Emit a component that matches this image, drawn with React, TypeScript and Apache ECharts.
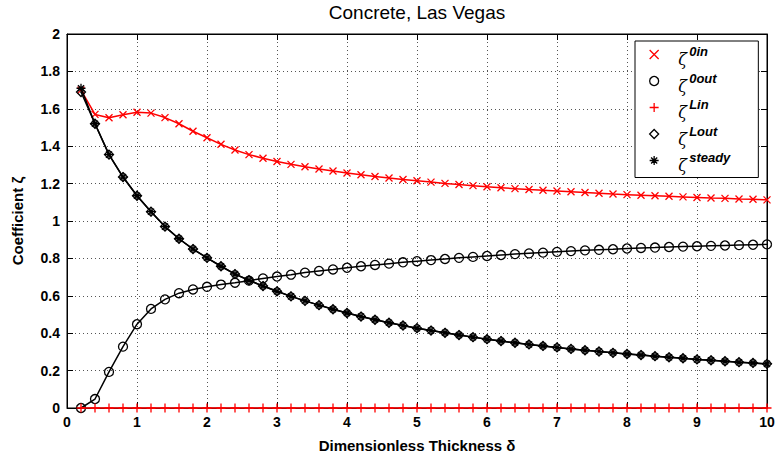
import { useEffect, useRef } from "react";
import * as echarts from "echarts";

// Dimensionless thickness δ (x values of every marker)
const thickness = [
  0.2, 0.4, 0.6, 0.8, 1.0, 1.2, 1.4, 1.6, 1.8, 2.0,
  2.2, 2.4, 2.6, 2.8, 3.0, 3.2, 3.4, 3.6, 3.8, 4.0,
  4.2, 4.4, 4.6, 4.8, 5.0, 5.2, 5.4, 5.6, 5.8, 6.0,
  6.2, 6.4, 6.6, 6.8, 7.0, 7.2, 7.4, 7.6, 7.8, 8.0,
  8.2, 8.4, 8.6, 8.8, 9.0, 9.2, 9.4, 9.6, 9.8, 10.0,
];

const zeta0in = [
  1.70, 1.57, 1.552, 1.568, 1.582, 1.577, 1.553, 1.52, 1.48, 1.445,
  1.41, 1.38, 1.355, 1.336, 1.318, 1.303, 1.29, 1.278, 1.267, 1.257,
  1.247, 1.238, 1.23, 1.222, 1.215, 1.208, 1.201, 1.195, 1.189, 1.183,
  1.178, 1.173, 1.168, 1.164, 1.16, 1.156, 1.152, 1.148, 1.144, 1.141,
  1.138, 1.135, 1.132, 1.129, 1.126, 1.123, 1.121, 1.118, 1.116, 1.113,
];

const zeta0out = [
  0.0, 0.048, 0.193, 0.328, 0.448, 0.53, 0.581, 0.614, 0.634, 0.648,
  0.66, 0.67, 0.681, 0.693, 0.703, 0.713, 0.724, 0.733, 0.741, 0.75,
  0.758, 0.765, 0.772, 0.779, 0.785, 0.791, 0.797, 0.803, 0.808, 0.813,
  0.818, 0.823, 0.827, 0.831, 0.835, 0.839, 0.843, 0.846, 0.849, 0.853,
  0.856, 0.858, 0.861, 0.863, 0.865, 0.867, 0.869, 0.871, 0.873, 0.875,
];

const zetaLin = [
  0, 0, 0, 0, 0, 0, 0, 0, 0, 0,
  0, 0, 0, 0, 0, 0, 0, 0, 0, 0,
  0, 0, 0, 0, 0, 0, 0, 0, 0, 0,
  0, 0, 0, 0, 0, 0, 0, 0, 0, 0,
  0, 0, 0, 0, 0, 0, 0, 0, 0, 0,
];

const zetaLout = [
  1.69, 1.52, 1.355, 1.235, 1.135, 1.05, 0.97, 0.905, 0.85, 0.803,
  0.758, 0.716, 0.683, 0.652, 0.624, 0.597, 0.573, 0.55, 0.528, 0.508,
  0.489, 0.472, 0.456, 0.441, 0.427, 0.414, 0.402, 0.39, 0.379, 0.368,
  0.358, 0.349, 0.34, 0.332, 0.324, 0.316, 0.309, 0.302, 0.295, 0.289,
  0.283, 0.277, 0.271, 0.266, 0.26, 0.255, 0.25, 0.245, 0.241, 0.236,
];

const zetaSteady = [
  1.71, 1.52, 1.355, 1.235, 1.135, 1.05, 0.97, 0.905, 0.85, 0.803,
  0.758, 0.716, 0.683, 0.652, 0.624, 0.597, 0.573, 0.55, 0.528, 0.508,
  0.489, 0.472, 0.456, 0.441, 0.427, 0.414, 0.402, 0.39, 0.379, 0.368,
  0.358, 0.349, 0.34, 0.332, 0.324, 0.316, 0.309, 0.302, 0.295, 0.289,
  0.283, 0.277, 0.271, 0.266, 0.26, 0.255, 0.25, 0.245, 0.241, 0.236,
];

const xTicks = [0, 10, 1];
const yTicks = [0, 2, 0.2];

const FONT = '"Liberation Sans", Arial, sans-serif';
const RED = "#ff0000";
const BLACK = "#000000";

const SYM_X = "path://M0,0L10,10M10,0L0,10";
const SYM_PLUS = "path://M5,0L5,10M0,5L10,5";
const SYM_STAR = "path://M5,0L5,10M0,5L10,5M1.6,1.6L8.4,8.4M8.4,1.6L1.6,8.4";
const SYM_DIAMOND = "path://M5,0L10,5L5,10L0,5Z";
const SYM_CIRCLE = "circle";

const seriesDefs = [
  { name: "ζ0in", sup: "0in", data: zeta0in, symbol: SYM_X, size: 7, color: RED },
  { name: "ζ0out", sup: "0out", data: zeta0out, symbol: SYM_CIRCLE, size: 9, color: BLACK },
  { name: "ζLin", sup: "Lin", data: zetaLin, symbol: SYM_PLUS, size: 9, color: RED },
  { name: "ζLout", sup: "Lout", data: zetaLout, symbol: SYM_DIAMOND, size: 9, color: BLACK },
  { name: "ζsteady", sup: "steady", data: zetaSteady, symbol: SYM_STAR, size: 9, color: BLACK },
];

export default function App() {
  const ref = useRef<HTMLDivElement>(null);
  useEffect(() => {
    if (!ref.current) return;
    const chart = echarts.init(ref.current, undefined, { renderer: "svg" });
    const grid = { left: 67, right: 11, top: 34, bottom: 52 };
    const supOf: Record<string, string> = {};
    seriesDefs.forEach((s) => (supOf[s.name] = s.sup));
    const option: any = {
      animation: false,
      backgroundColor: "#ffffff",
      title: {
        text: "Concrete, Las Vegas",
        left: 417,
        top: 3,
        padding: 0,
        textAlign: "center",
        textStyle: { fontFamily: FONT, fontSize: 19, fontWeight: "normal", color: "#000" },
      },
      grid: { ...grid, show: true, borderColor: "#000", borderWidth: 1, backgroundColor: "#fff" },
      legend: {
        orient: "vertical",
        left: 635,
        top: 41,
        padding: [4, 28, 4, 14],
        itemWidth: 38,
        itemHeight: 9,
        itemGap: 4,
        selectedMode: false,
        backgroundColor: "#fff",
        borderColor: "#000",
        borderWidth: 1,
        borderRadius: 0,
        formatter: (name: string) => `{s|${supOf[name]}}\n{z|ζ}`,
        textStyle: {
          color: "#000",
          rich: {
            z: {
              fontFamily: '"DejaVu Serif", serif',
              fontSize: 16,
              fontStyle: "italic",
              color: "#000",
              lineHeight: 6,
            },
            s: {
              fontFamily: FONT,
              fontSize: 13,
              fontWeight: "bold",
              fontStyle: "italic",
              color: "#000",
              lineHeight: 10,
              padding: [0, 0, 0, 11],
            },
          },
        },
        data: seriesDefs.map((s) => ({
          name: s.name,
          icon: s.symbol,
          itemStyle: {
            color: "rgba(0,0,0,0)",
            borderColor: s.color,
            borderWidth: 1.3,
          },
        })),
      },
      xAxis: [
        {
          type: "value",
          min: xTicks[0],
          max: xTicks[1],
          interval: xTicks[2],
          name: "Dimensionless Thickness δ",
          nameLocation: "middle",
          nameGap: 30,
          nameTextStyle: { fontFamily: FONT, fontSize: 15, fontWeight: "bold", color: "#000" },
          axisLine: { show: true, onZero: false, lineStyle: { color: "#000", width: 1 } },
          axisTick: { show: true, inside: true, length: 6, lineStyle: { color: "#000" } },
          axisLabel: { fontFamily: FONT, fontSize: 14, fontWeight: "bold", color: "#000", margin: 7 },
          splitLine: { show: true, lineStyle: { color: "#555", type: [1, 3], width: 1 } },
        },
        {
          type: "value",
          position: "top",
          min: xTicks[0],
          max: xTicks[1],
          interval: xTicks[2],
          axisLine: { show: true, onZero: false, lineStyle: { color: "#000", width: 1 } },
          axisTick: { show: true, inside: true, length: 6, lineStyle: { color: "#000" } },
          axisLabel: { show: false },
          splitLine: { show: false },
        },
      ],
      yAxis: [
        {
          type: "value",
          min: yTicks[0],
          max: yTicks[1],
          interval: yTicks[2],
          name: "Coefficient ζ",
          nameLocation: "middle",
          nameGap: 42,
          nameTextStyle: { fontFamily: FONT, fontSize: 15, fontWeight: "bold", color: "#000" },
          axisLine: { show: true, onZero: false, lineStyle: { color: "#000", width: 1 } },
          axisTick: { show: true, inside: true, length: 6, lineStyle: { color: "#000" } },
          axisLabel: { fontFamily: FONT, fontSize: 14, fontWeight: "bold", color: "#000", margin: 7 },
          splitLine: { show: true, lineStyle: { color: "#555", type: [1, 3], width: 1 } },
        },
        {
          type: "value",
          position: "right",
          min: yTicks[0],
          max: yTicks[1],
          interval: yTicks[2],
          axisLine: { show: true, onZero: false, lineStyle: { color: "#000", width: 1 } },
          axisTick: { show: true, inside: true, length: 6, lineStyle: { color: "#000" } },
          axisLabel: { show: false },
          splitLine: { show: false },
        },
      ],
      series: seriesDefs.map((s, i) => ({
        name: s.name,
        type: "line",
        xAxisIndex: 0,
        yAxisIndex: 0,
        data: thickness.map((x, j) => [x, s.data[j]]),
        symbol: s.symbol,
        symbolSize: s.size,
        showAllSymbol: true,
        clip: false,
        z: 2 + i,
        lineStyle: { color: s.color, width: 1.5 },
        itemStyle: { color: "rgba(0,0,0,0)", borderColor: s.color, borderWidth: 1.3 },
        emphasis: { disabled: true },
      })),
    };
    chart.setOption(option);
    return () => chart.dispose();
  }, []);
  return <div ref={ref} style={{ width: 778, height: 460, position: "absolute", left: 0, top: 0 }} />;
}
